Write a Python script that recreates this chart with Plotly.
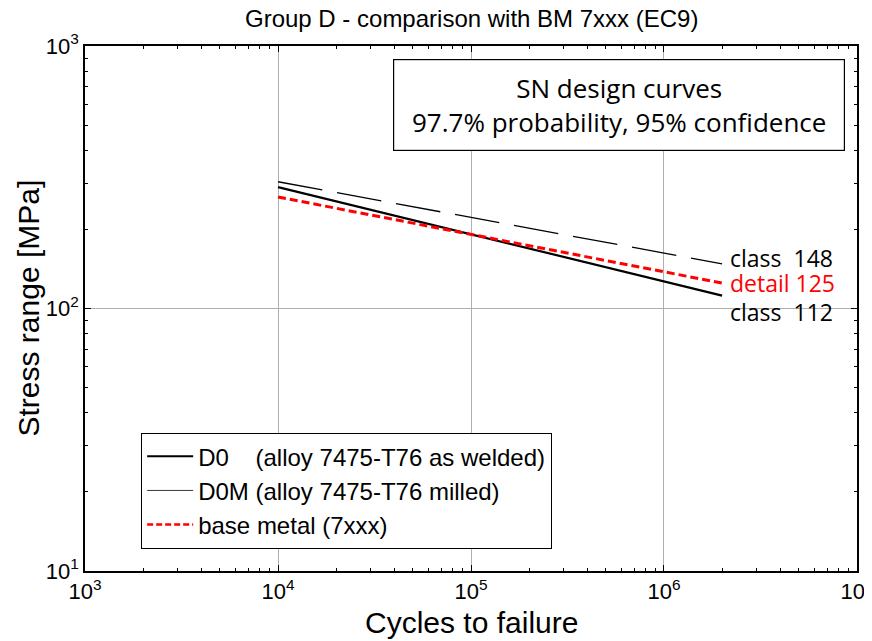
import math
import plotly.graph_objects as go

# data
n_pts = [1e4, 2e6]
d0_stress = [290, 112]
d0m_stress = [304, 148]
bm_stress = [266, 125]
x_ticks = [1e3, 1e4, 1e5, 1e6, 1e7]
x_ticktext = ["10<sup>3</sup>", "10<sup>4</sup>", "10<sup>5</sup>", "10<sup>6</sup>", "10<sup>7</sup>"]
y_ticks = [10, 100, 1000]
y_ticktext = ["10<sup>1</sup>", "10<sup>2</sup>", "10<sup>3</sup>"]
labels = ["class  148", "detail 125", "class  112"]
label_vals = [148, 125, 112]
label_colors = ["black", "red", "black"]

x_minor = [m * 10 ** e for e in range(3, 7) for m in range(2, 10)]
y_minor = [m * 10 ** e for e in range(1, 3) for m in range(2, 10)]

fig = go.Figure()
fig.add_trace(go.Scatter(x=n_pts, y=d0m_stress, mode="lines", showlegend=False,
                         line=dict(color="black", width=1.3, dash="45px,15px")))
fig.add_trace(go.Scatter(x=n_pts, y=d0_stress, mode="lines", showlegend=False,
                         line=dict(color="black", width=2.2)))
fig.add_trace(go.Scatter(x=n_pts, y=bm_stress, mode="lines", showlegend=False,
                         line=dict(color="red", width=3, dash="8px,4px")))
fig.add_trace(go.Scatter(x=[None], y=[None], mode="lines", name="D0    (alloy 7475-T76 as welded)",
                         line=dict(color="black", width=2)))
fig.add_trace(go.Scatter(x=[None], y=[None], mode="lines", name="D0M (alloy 7475-T76 milled)",
                         line=dict(color="black", width=0.8)))
fig.add_trace(go.Scatter(x=[None], y=[None], mode="lines", name="base metal (7xxx)",
                         line=dict(color="red", width=2.5, dash="6px,3px")))

for lab, v, c, yo in zip(labels, label_vals, label_colors, [6, 0, -16]):
    fig.add_annotation(x=math.log10(2.15e6), y=math.log10(v), xref="x", yref="y", text=lab,
                       showarrow=False, xanchor="left", yanchor="middle", yshift=yo,
                       font=dict(family="Open Sans", size=23, color=c))

fig.add_annotation(x=0.692, y=0.8876, xref="paper", yref="paper", xanchor="center", yanchor="middle",
                   text="SN design curves<br>97.7% probability, 95% confidence",
                   showarrow=False, align="center", bordercolor="black", borderwidth=1.2,
                   bgcolor="white", borderpad=10, width=430,
                   font=dict(family="Open Sans", size=26, color="black"))

fig.add_annotation(x=0.5, y=1, xref="paper", yref="paper", yshift=28, yanchor="middle",
                   text="Group D - comparison with BM 7xxx (EC9)", showarrow=False,
                   font=dict(family="Liberation Sans", size=24, color="black"))
fig.add_annotation(x=0.5, y=0, xref="paper", yref="paper", yshift=-51, yanchor="middle",
                   text="Cycles to failure", showarrow=False,
                   font=dict(family="Liberation Sans", size=30, color="black"))
fig.add_annotation(x=0, y=0.5, xref="paper", yref="paper", xshift=-57, xanchor="center",
                   yanchor="middle", textangle=-90,
                   text="Stress range [MPa]", showarrow=False,
                   font=dict(family="Liberation Sans", size=30, color="black"))

axis_common = dict(type="log", showline=True, linecolor="black", linewidth=1.5, mirror="ticks",
                   ticks="inside", ticklen=6, tickcolor="black", showgrid=True,
                   gridcolor="#b0b0b0", gridwidth=1, zeroline=False, automargin=False,
                   ticklabeloverflow="allow",
                   tickfont=dict(family="Liberation Sans", size=22, color="black"))

fig.update_xaxes(**axis_common, range=[2.9999, 7.0001], tickvals=x_ticks, ticktext=x_ticktext,
                 minor=dict(tickvals=x_minor, ticks="inside", ticklen=3, tickcolor="black",
                            showgrid=False))
fig.update_yaxes(**axis_common, range=[0.9999, 3.0001], tickvals=y_ticks, ticktext=y_ticktext,
                 minor=dict(tickvals=y_minor, ticks="inside", ticklen=3, tickcolor="black",
                            showgrid=False))

fig.update_layout(width=864, height=633, margin=dict(l=77, r=15, t=38, b=70),
                  plot_bgcolor="white", paper_bgcolor="white", showlegend=True,
                  legend=dict(x=0.0725, y=0.263, xanchor="left", yanchor="top",
                              bordercolor="black", borderwidth=1.2, bgcolor="white",
                              font=dict(family="Liberation Sans", size=24, color="black"),
                              tracegroupgap=0, itemwidth=46))

fig.write_html("out.html")
